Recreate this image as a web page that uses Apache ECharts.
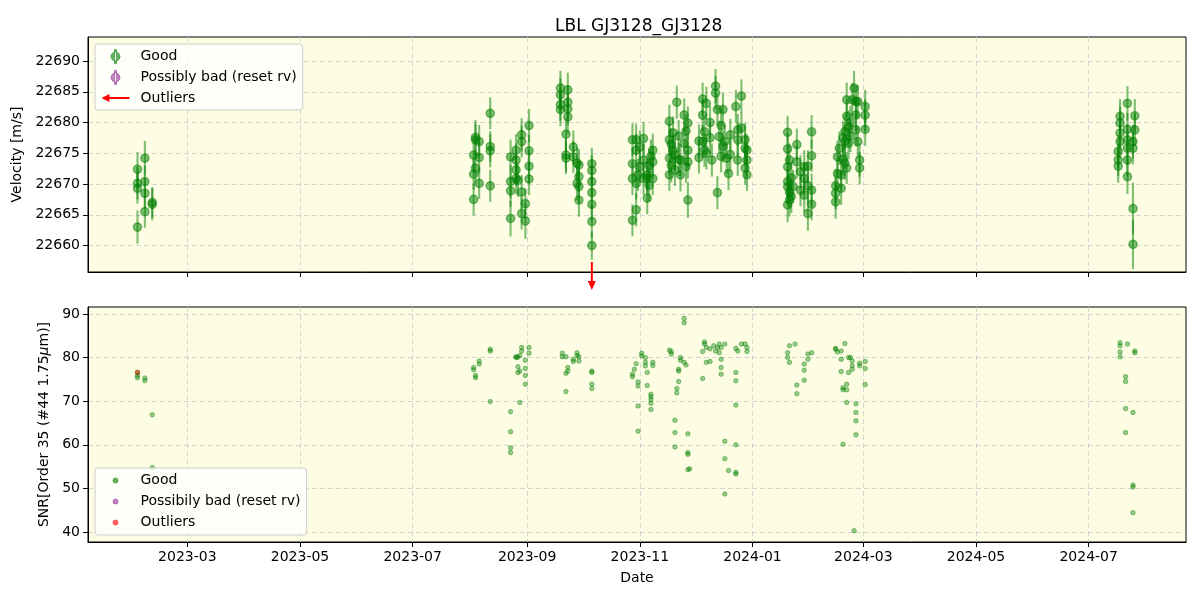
<!DOCTYPE html>
<html><head><meta charset="utf-8">
<script src="https://cdn.jsdelivr.net/npm/echarts@6/dist/echarts.min.js"></script>
<style>html,body{margin:0;padding:0;background:#fff}#c{width:1200px;height:600px}</style>
</head><body><div id="c"></div>
<script>
const titleText = 'LBL GJ3128_GJ3128';
const xTickLabels = ['2023-03','2023-05','2023-07','2023-09','2023-11','2024-01','2024-03','2024-05','2024-07'];
const rvTickLabels = [22660,22665,22670,22675,22680,22685,22690];
const snrTickLabels = [40,50,60,70,80,90];

const rvNightDates = ['2023-02-02','2023-02-06','2023-02-10','2023-08-03','2023-08-04','2023-08-06','2023-08-12','2023-08-23','2023-08-26','2023-08-27','2023-08-29','2023-08-31','2023-09-02','2023-09-19','2023-09-22','2023-09-23','2023-09-26','2023-09-28','2023-09-29','2023-10-06','2023-10-28','2023-10-30','2023-10-31','2023-11-01','2023-11-03','2023-11-05','2023-11-06','2023-11-07','2023-11-08','2023-11-17','2023-11-18','2023-11-19','2023-11-20','2023-11-21','2023-11-22','2023-11-23','2023-11-25','2023-11-26','2023-11-27','2023-12-03','2023-12-05','2023-12-06','2023-12-07','2023-12-09','2023-12-10','2023-12-12','2023-12-13','2023-12-14','2023-12-15','2023-12-16','2023-12-17','2023-12-18','2023-12-19','2023-12-20','2023-12-23','2023-12-24','2023-12-26','2023-12-28','2023-12-29','2024-01-20','2024-01-21','2024-01-22','2024-01-23','2024-01-25','2024-01-27','2024-01-29','2024-01-31','2024-02-02','2024-02-15','2024-02-16','2024-02-17','2024-02-18','2024-02-19','2024-02-20','2024-02-21','2024-02-22','2024-02-23','2024-02-24','2024-02-25','2024-02-26','2024-02-27','2024-02-28','2024-03-02','2024-07-17','2024-07-18','2024-07-22','2024-07-25','2024-07-26'];
const rvNightValues = [
[22663.0,22672.4,22670.1,22669.3],[22674.2,22670.4,22668.5,22665.5],[22667.0,22666.7],
[22674.7,22671.6,22667.5],[22677.6,22677.2,22672.6],[22676.9,22674.3,22670.1],[22681.5,22676.1,22675.4,22669.7],
[22674.4,22670.4,22668.9,22664.4],[22675.5,22673.9,22672.3,22670.9],[22670.6],[22678.0,22676.9,22668.7,22665.2],
[22666.8,22664.0],[22679.5,22675.4,22672.9,22670.8],[22685.6,22684.5,22682.9,22682.1],[22678.1,22674.7,22674.2],
[22685.3,22683.3,22682.2,22680.9],[22676.0,22674.4],[22673.4,22670.1],[22673.1,22671.2,22669.6,22667.4],
[22673.3,22672.2,22670.4,22668.6,22666.7,22663.9,22660.0],
[22677.2,22673.3,22670.9,22664.1],[22677.2,22675.5,22670.1,22665.8],[22671.5],[22676.0,22672.8],[22677.4,22673.9,22670.9],
[22671.5,22671.0,22667.7],[22673.0,22669.8],[22674.5],[22675.5,22673.6,22670.9],
[22680.2,22677.2,22674.2,22671.5],[22676.5,22673.0],[22678.3,22675.5],[22674.8,22672.3],[22683.3],[22677.8,22674.0],
[22673.9,22671.5],[22681.2,22676.6],[22678.6,22672.8],[22679.9,22675.5,22673.6,22667.4],
[22677.0,22674.3],[22683.8,22681.2,22676.9],[22678.5,22675.5],[22683.1,22675.0],[22680.0,22677.5],[22673.9],
[22685.9,22684.8],[22682.1,22668.6],[22677.7],[22679.5,22674.5],[22682.1,22676.1],[22676.9],[22674.2],[22671.7],
[22678.0,22674.8],[22682.6],[22678.8,22677.2,22673.9],[22684.3,22679.1],[22677.2,22675.8,22672.6],[22675.5,22673.9,22671.5],
[22678.4,22675.7,22672.8,22670.4,22669.6,22666.6],[22673.9,22668.7,22667.4],[22671.0,22668.0],[22669.6],[22676.4,22673.6],
[22672.0,22669.0],[22672.8,22670.9,22668.2],[22672.9,22669.7,22665.2],[22678.5,22674.6,22669.0,22666.7],
[22669.7,22668.5,22667.1],[22674.4,22671.7],[22675.8],[22671.5,22669.3],[22677.5,22674.0],[22678.5,22676.9,22673.4],
[22683.7,22681.0,22672.6],[22679.3,22676.6],[22680.0,22677.8],[22683.7],[22685.6],[22683.4,22681.2,22678.8],
[22683.4,22676.9],[22673.9,22672.6],[22682.6,22681.2,22678.9],
[22675.3,22673.9,22672.9],[22681.0,22679.9,22678.3,22676.9],[22683.1,22678.9,22677.2,22675.8,22673.9,22671.2],
[22676.9,22675.8,22666.0,22660.2],[22681.1,22678.8]
];
const rvNightErrors = [
[2.7,2.8,2.6,2.5],[2.8,2.6,2.4,2.6],[2.5,2.6],
[2.6,2.5,2.6],[2.8,2.6,2.5],[2.7,2.6,2.5],[2.6,2.5,2.7,2.6],
[2.8,2.7,2.6,2.9],[2.6,2.7,2.5,2.6],[2.7],[2.7,2.6,2.8,2.6],
[2.5,2.9],[2.7,2.6,2.7,2.6],[2.8,2.7,2.6,2.7],[2.6,2.7,2.6],
[2.8,2.7,2.6,2.7],[2.7,2.6],[2.6,2.7],[2.6,2.5,2.7,2.7],
[2.6,2.5,2.6,2.6,2.7,2.7,2.3],
[2.7,2.6,2.7,2.6],[2.6,2.7,2.6,2.7],[2.6],[2.7,2.6],[2.7,2.6,2.7],
[2.6,2.7,2.6],[2.7,2.6],[2.7],[2.7,2.6,2.7],
[2.7,2.6,2.7,2.6],[2.6,2.7],[2.7,2.6],[2.7,2.6],[2.7],[2.6,2.7],
[2.6,2.7],[2.7,2.6],[2.7,2.6],[2.7,2.6,2.7,2.9],
[2.7,2.6],[2.7,2.6,2.7],[2.6,2.7],[2.7,2.6],[2.7,2.6],[2.7],
[2.8,2.7],[2.6,2.7],[2.6],[2.7,2.6],[2.7,2.6],[2.7],[2.6],[2.7],
[2.6,2.7],[2.7],[2.6,2.7,2.6],[2.7,2.6],[2.7,2.6,2.7],[2.6,2.7,2.6],
[2.7,2.6,2.7,2.6,2.7,2.8],[2.7,2.6,2.7],[2.6,2.7],[2.7],[2.6,2.7],
[2.7,2.6],[2.7,2.6,2.7],[2.6,2.7,2.8],[2.7,2.6,2.7,2.6],
[2.7,2.6,2.7],[2.7,2.6],[2.7],[2.6,2.7],[2.7,2.6],[2.7,2.6,2.7],
[2.8,2.7,2.6],[2.7,2.6],[2.7,2.6],[2.7],[2.8],[2.7,2.6,2.7],
[2.7,2.6],[2.7,2.6],[2.7,2.6,2.7],
[2.7,2.6,2.7],[2.8,2.7,2.6,2.7],[2.8,2.7,2.6,2.7,2.6,2.8],
[2.7,2.6,4.2,4.0],[2.7,2.6]
];

const snrNightDates = ['2023-02-02','2023-02-06','2023-02-10','2023-08-03','2023-08-04','2023-08-06','2023-08-12','2023-08-23','2023-08-26','2023-08-27','2023-08-28','2023-08-29','2023-08-31','2023-09-02','2023-09-20','2023-09-22','2023-09-23','2023-09-26','2023-09-28','2023-09-29','2023-10-06','2023-10-28','2023-10-29','2023-10-30','2023-10-31','2023-11-02','2023-11-04','2023-11-05','2023-11-07','2023-11-08','2023-11-17','2023-11-18','2023-11-20','2023-11-21','2023-11-22','2023-11-23','2023-11-25','2023-11-26','2023-11-27','2023-11-28','2023-12-05','2023-12-06','2023-12-07','2023-12-09','2023-12-11','2023-12-12','2023-12-13','2023-12-14','2023-12-15','2023-12-17','2023-12-19','2023-12-23','2023-12-24','2023-12-26','2023-12-28','2023-12-29','2024-01-20','2024-01-21','2024-01-24','2024-01-25','2024-01-29','2024-01-31','2024-02-02','2024-02-15','2024-02-16','2024-02-18','2024-02-19','2024-02-20','2024-02-21','2024-02-22','2024-02-23','2024-02-24','2024-02-25','2024-02-26','2024-02-28','2024-03-02','2024-07-18','2024-07-21','2024-07-22','2024-07-25','2024-07-26'];
const snrNightValues = [
[76.6,75.9,75.4],[75.3,74.7],[66.9,54.8],[77.7,77.2],[75.9,75.4],[79.2,78.5],[81.9,81.5,69.9],[67.6,63.0,59.3,58.2],
[80.2,80.0],[80.1,77.9,76.6],[80.5,76.9,69.7],[82.3,81.5],[79.4,77.5,75.9,73.9],[82.3,81.0],
[81.0,80.2],[80.2,76.4,72.2],[77.7,76.9],[79.6,79.1],[81.1,80.5],[80.2,79.2],[76.9,76.6,73.9,72.9],
[76.2,75.6],[77.3],[78.6],[74.4,73.5,68.9,63.1],[81.0,80.4],[80.0,78.9,78.1],[76.6,73.6],[71.6,71.0,70.4,69.5,68.1],[78.9,78.2],
[81.7],[81.4,80.8],[65.6,62.8,59.5],[71.9,72.9],[74.5,76.9,77.3],[80.0,79.4],[78.9,89.0,88.0],[78.3],[62.5,58.2,57.8,54.3],[54.5],
[81.4,75.2],[83.6,83.1],[82.3,78.9],[82.0,79.1],[82.7],[81.5],[82.3],[83.1,81.1],[82.3,79.6,77.7,76.2],[83.1,60.8,56.8,48.7],[54.1],
[82.1,76.6,74.7,69.1,60.0,53.7,53.3],[81.5],[83.1],[83.1],[82.3,81.4],
[81.1,80.0],[82.7,78.9],[83.1],[73.7,71.7],[78.5,77.1,74.8],[80.8,79.6],[81.1],
[82.1,81.9],[81.3],[81.5,79.6,76.8],[73.1,72.6,60.1],[83.2],[73.9,72.6,69.7],[80.0,76.6],[80.0],[79.2,78.1,77.3],[40.3],
[69.4,67.4,65.5,62.3],[78.7,78.1],[79.1,77.5,73.8],
[83.4,82.7,81.3,80.2],[75.6,74.5,68.3,62.8],[83.1],[67.4,50.8,50.3,44.4],[81.5,81.1]
];

const outlierArrowDates = ['2023-10-06'];
const outlierSnrDates = ['2023-02-02'];
const outlierSnrValues = [76.6];

const F = 'DejaVu Sans';
const GREEN = 'rgba(0,128,0,0.5)';
const PURPLE = 'rgba(128,0,128,0.5)';
const RED_A = 'rgba(255,0,0,0.5)';
const BG = '#fdfde3';
const X_MIN = '2023-01-06 05:00', X_MAX = '2024-08-22 17:00';
const RV_MIN = 22655.7, RV_MAX = 22693.9, SNR_MIN = 37.7, SNR_MAX = 91.6;

function toTs(s) {
  const m = s.match(/^(\d+)-(\d+)-(\d+)(?:\s+(\d+):(\d+))?$/);
  return Date.UTC(+m[1], +m[2] - 1, +m[3], m[4] ? +m[4] : 0, m[5] ? +m[5] : 0);
}
const xTickValues = xTickLabels.map(s => toTs(s + '-01'));

const rvData = [];
rvNightDates.forEach((d, i) => rvNightValues[i].forEach((v, j) => rvData.push([toTs(d), v, rvNightErrors[i][j]])));
const snrData = [];
snrNightDates.forEach((d, i) => snrNightValues[i].forEach(v => snrData.push([toTs(d), v])));
const outSnrData = outlierSnrDates.map((d, i) => [toTs(d), outlierSnrValues[i]]);
const arrowData = outlierArrowDates.map(d => [toTs(d), RV_MIN]);

const chart = echarts.init(document.getElementById('c'), null, {renderer: 'canvas'});

function xAxis(gi, labels) {
  return {
    type: 'value', gridIndex: gi, min: toTs(X_MIN), max: toTs(X_MAX), scale: true,
    axisLine: {show: true, onZero: false, lineStyle: {color: '#000', width: 1}},
    axisTick: {show: true, customValues: xTickValues, length: 5, lineStyle: {color: '#000', width: 1}},
    axisLabel: {show: labels, customValues: xTickValues, color: '#000', fontSize: 14, fontFamily: F, margin: 8,
      formatter: v => { const i = xTickValues.indexOf(v); return i >= 0 ? xTickLabels[i] : ''; }},
    splitLine: {show: true, lineStyle: {type: [5, 3], color: '#cdcdcd', width: 0.8}},
    name: labels ? 'Date' : '', nameLocation: 'middle', nameGap: 29,
    nameTextStyle: {color: '#000', fontSize: 14, fontFamily: F}
  };
}
function yAxis(gi, min, max, ticks, name, gap) {
  return {
    type: 'value', gridIndex: gi, min: min, max: max, scale: true,
    axisLine: {show: true, onZero: false, lineStyle: {color: '#000', width: 1}},
    axisTick: {show: true, customValues: ticks, length: 5, lineStyle: {color: '#000', width: 1}},
    axisLabel: {customValues: ticks, color: '#000', fontSize: 14, fontFamily: F, margin: 8, formatter: v => String(v)},
    splitLine: {show: true, lineStyle: {type: [5, 3], color: '#cdcdcd', width: 0.8}},
    name: name, nameLocation: 'middle', nameGap: gap, nameRotate: 90,
    nameTextStyle: {color: '#000', fontSize: 14, fontFamily: F,
      rich: {i: {fontStyle: 'italic', fontSize: 14, fontFamily: F, color: '#000'}}}
  };
}

const B = 'M0 0M28 14';
const iconGood = 'path://' + B + 'M13 0h2v14h-2zM9.5 7a4.5 4.5 0 1 0 9 0a4.5 4.5 0 1 0 -9 0z';
const iconArrow = 'path://' + B + 'M0 7L8 3L8 6L28 6L28 8L8 8L8 11Z';
const iconDot = 'path://' + B + 'M11.5 7a2.5 2.5 0 1 0 5 0a2.5 2.5 0 1 0 -5 0z';

const legendCommon = {
  orient: 'vertical', left: 95, itemWidth: 28, itemHeight: 14, itemGap: 6,
  padding: [5, 6, 5, 6], selectedMode: false,
  backgroundColor: 'rgba(255,255,255,0.8)', borderColor: '#cccccc', borderWidth: 1, borderRadius: 3,
  textStyle: {color: '#000', fontSize: 14, fontFamily: F, padding: [0, 0, 0, 6]}
};

const option = {
  animation: false,
  backgroundColor: '#fff',
  title: {text: titleText, left: 550, top: 13, textStyle: {color: '#000', fontSize: 17, fontWeight: 'normal', fontFamily: F}},
  grid: [
    {left: 88, right: 14, top: 37, height: 235, show: true, backgroundColor: BG, borderColor: '#000', borderWidth: 1},
    {left: 88, right: 14, top: 307, height: 235, show: true, backgroundColor: BG, borderColor: '#000', borderWidth: 1}
  ],
  xAxis: [xAxis(0, false), xAxis(1, true)],
  yAxis: [
    yAxis(0, RV_MIN, RV_MAX, rvTickLabels, 'Velocity [m/s]', 57),
    yAxis(1, SNR_MIN, SNR_MAX, snrTickLabels, 'SNR[Order 35 (#44 1.75{i|μ}m)]', 34)
  ],
  legend: [
    Object.assign({}, legendCommon, {top: 44, data: [
      {name: 'Good', icon: iconGood, itemStyle: {color: 'rgba(0,128,0,0.6)', borderColor: GREEN, borderWidth: 1}},
      {name: 'Possibly bad (reset rv)', icon: iconGood, itemStyle: {color: 'rgba(128,0,128,0.6)', borderColor: PURPLE, borderWidth: 1}},
      {name: 'Outliers', icon: iconArrow, itemStyle: {color: '#ff0000'}}
    ]}),
    Object.assign({}, legendCommon, {top: 468, data: [
      {name: 'Good', icon: iconDot, itemStyle: {color: 'rgba(0,128,0,0.6)', borderColor: GREEN, borderWidth: 1}},
      {name: 'Possibily bad (reset rv)', icon: iconDot, itemStyle: {color: 'rgba(128,0,128,0.6)', borderColor: PURPLE, borderWidth: 1}},
      {name: 'Outliers', icon: iconDot, itemStyle: {color: 'rgba(255,0,0,0.6)', borderColor: RED_A, borderWidth: 1}}
    ]})
  ],
  series: [
    {
      name: 'Good', type: 'custom', xAxisIndex: 0, yAxisIndex: 0, clip: true,
      encode: {x: 0, y: 1}, data: rvData, itemStyle: {color: GREEN},
      renderItem: function (params, api) {
        const x = api.value(0), v = api.value(1), e = api.value(2);
        const c = api.coord([x, v]), t = api.coord([x, v + e]), b = api.coord([x, v - e]);
        return {type: 'group', children: [
          {type: 'line', shape: {x1: c[0], y1: t[1], x2: c[0], y2: b[1]}, style: {stroke: GREEN, lineWidth: 2.1}},
          {type: 'circle', shape: {cx: c[0], cy: c[1], r: 4.1}, style: {fill: GREEN, stroke: GREEN, lineWidth: 1.4}}
        ]};
      }
    },
    {name: 'Possibly bad (reset rv)', type: 'scatter', xAxisIndex: 0, yAxisIndex: 0, data: [], itemStyle: {color: PURPLE}},
    {
      name: 'Outliers', type: 'custom', xAxisIndex: 0, yAxisIndex: 0, clip: false,
      encode: {x: 0, y: 1}, data: arrowData, itemStyle: {color: '#ff0000'},
      renderItem: function (params, api) {
        const p = api.coord([api.value(0), api.value(1)]);
        const cs = params.coordSys;
        const y0 = cs.y + cs.height - 10;
        const x0 = p[0];
        return {type: 'group', children: [
          {type: 'line', shape: {x1: x0, y1: y0, x2: x0, y2: y0 + 21}, style: {stroke: '#ff0000', lineWidth: 2}},
          {type: 'polygon', shape: {points: [[x0 - 4, y0 + 19], [x0 + 4, y0 + 19], [x0, y0 + 28]]}, style: {fill: '#ff0000'}}
        ]};
      }
    },
    {name: 'Good', type: 'scatter', xAxisIndex: 1, yAxisIndex: 1, data: snrData, symbolSize: 4.5,
      itemStyle: {color: GREEN, borderColor: GREEN, borderWidth: 1}},
    {name: 'Possibily bad (reset rv)', type: 'scatter', xAxisIndex: 1, yAxisIndex: 1, data: [], symbolSize: 4.5,
      itemStyle: {color: PURPLE, borderColor: PURPLE, borderWidth: 1}},
    {name: 'Outliers', type: 'scatter', xAxisIndex: 1, yAxisIndex: 1, data: outSnrData, symbolSize: 4.5,
      itemStyle: {color: RED_A, borderColor: RED_A, borderWidth: 1}}
  ]
};
chart.setOption(option);
</script>
</body></html>
